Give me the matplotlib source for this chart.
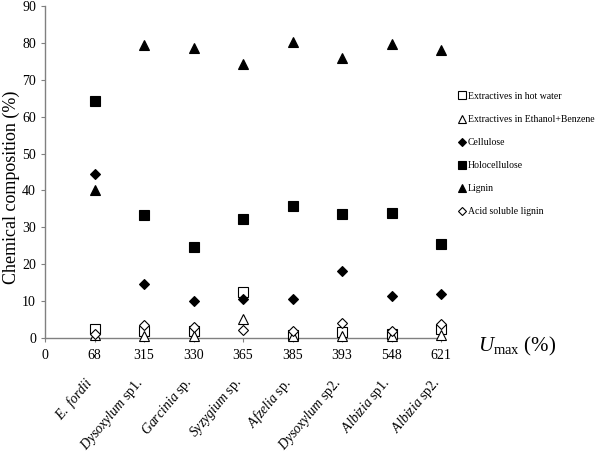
import numpy as np
import matplotlib
matplotlib.use("Agg")
import matplotlib.pyplot as plt

plt.rcParams['font.family'] = ['Liberation Serif', 'DejaVu Serif']
plt.rcParams['mathtext.fontset'] = 'custom'
plt.rcParams['mathtext.rm'] = 'Liberation Serif'
plt.rcParams['mathtext.it'] = 'Liberation Serif:italic'

# ----------------------------------------------------------------------
# data
# ----------------------------------------------------------------------
umax_labels = ['0', '68', '315', '330', '365', '385', '393', '548', '621']
species = [r'$\it{E.\ fordii}$', r'$\it{Dysoxylum}$ sp1.', r'$\it{Garcinia}$ sp.',
           r'$\it{Syzygium}$ sp.', r'$\it{Afzelia}$ sp.', r'$\it{Dysoxylum}$ sp2.',
           r'$\it{Albizia}$ sp1.', r'$\it{Albizia}$ sp2.']

hot_water = [2.5, 2.0, 2.0, 12.5, 0.8, 1.5, 1.0, 2.5]
eth_benz = [0.8, 0.5, 0.5, 5.1, 0.5, 0.5, 0.5, 0.8]
cellulose = [44.4, 14.6, 10.0, 10.6, 10.6, 18.2, 11.5, 12.0]
holocellulose = [64.2, 33.3, 24.8, 32.3, 35.9, 33.7, 34.0, 25.6]
lignin = [40.1, 79.4, 78.5, 74.4, 80.2, 75.8, 79.7, 78.0]
acid_lignin = [1.2, 3.5, 3.0, 2.1, 2.0, 4.0, 2.0, 3.8]

series = [
    ('Extractives in hot water', hot_water, 's', 'white', 6.5),
    ('Extractives in Ethanol+Benzene', eth_benz, '^', 'white', 6.5),
    ('Cellulose', cellulose, 'D', 'black', 5),
    ('Holocellulose', holocellulose, 's', 'black', 6.5),
    ('Lignin', lignin, '^', 'black', 7),
    ('Acid soluble lignin', acid_lignin, 'D', 'white', 5),
]

# ----------------------------------------------------------------------
# plot
# ----------------------------------------------------------------------
fig = plt.figure(figsize=(6.0, 4.57), dpi=100)
ax = fig.add_axes([45 / 600, (457 - 338) / 457, (441 - 45) / 600, (338 - 6) / 457])

x = np.arange(1, len(umax_labels))
handles = []
for name, vals, mk, fc, ms in series:
    h, = ax.plot(x, vals, linestyle='none', marker=mk, markersize=ms,
                 markerfacecolor=fc, markeredgecolor='black', markeredgewidth=0.8,
                 clip_on=False, label=name, zorder=3)
    handles.append(h)

ax.set_xlim(0, len(umax_labels) - 1)
ax.set_ylim(0, 90)
ax.set_yticks(np.arange(0, 91, 10))
ax.set_xticks(np.arange(len(umax_labels)))
ax.set_xticklabels(umax_labels)
ax.tick_params(axis='both', labelsize=10, direction='out', length=3, width=0.8, color='#808080')
ax.tick_params(axis='x', pad=5)

for s in ['top', 'right']:
    ax.spines[s].set_visible(False)
for s in ['left', 'bottom']:
    ax.spines[s].set_color('#808080')
    ax.spines[s].set_linewidth(1.0)

ax.set_ylabel('Chemical composition (%)', fontsize=13)
ax.yaxis.set_label_coords(-0.064, 0.455)

fig.text(478 / 600, 1 - 346 / 457, r'$U_{\rm max}$ (%)', fontsize=15,
         ha='left', va='center')

# species names under the U_max values
for i, name in enumerate(species):
    ax.text(x[i] + 0.06, -0.11, name, fontsize=10, rotation=50,
            ha='right', va='top', transform=ax.get_xaxis_transform())

leg = fig.legend(handles=handles, loc='upper left', bbox_to_anchor=(454 / 600, 1 - 88 / 457),
                 frameon=False, fontsize=7.0, handlelength=0.8, handletextpad=0.25,
                 labelspacing=1.45, markerscale=0.85, borderaxespad=0)

fig.savefig('out.png', dpi=100)
